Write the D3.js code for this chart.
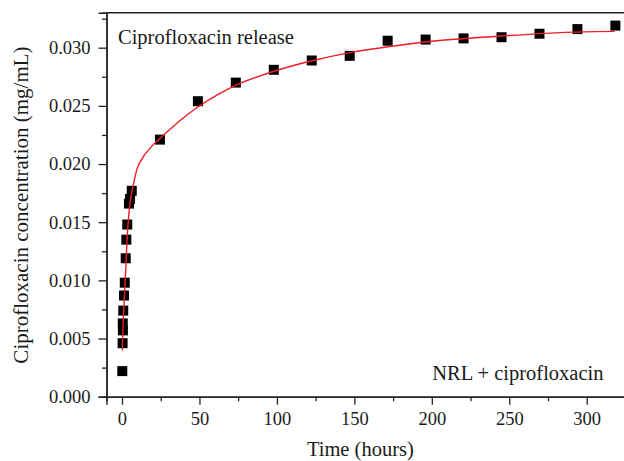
<!DOCTYPE html>
<html>
<head>
<meta charset="utf-8">
<script src="https://cdn.jsdelivr.net/npm/d3@7"></script>
<style>
  html, body { margin: 0; padding: 0; background: #fff; }
  svg { display: block; }
  text { font-family: "Liberation Serif", "DejaVu Serif", serif; fill: #1a1a1a; }
</style>
</head>
<body>
<svg id="chart" width="624" height="461"></svg>
<script>
// Measured release data (time in hours, concentration in mg/mL)
const timeHours = [0.2, 0.4, 0.5, 0.6, 0.8, 1.3, 1.8, 2.4, 2.8, 3.4, 4.5, 5.2, 6.3,
  24.5, 49, 73.5, 98, 122.5, 147, 171.5, 196, 220.5, 245, 269.5, 294, 318.5];
const concentration = [0.0022, 0.0046, 0.0063, 0.0057, 0.0074, 0.0087, 0.0098, 0.0119, 0.0135, 0.0148, 0.0166, 0.0170, 0.0177,
  0.0221, 0.0254, 0.0270, 0.0281, 0.0289, 0.0293, 0.0306, 0.0307, 0.0308, 0.0309, 0.0312, 0.0316, 0.0319];

// Fitted curve
const fitTime = [0.2, 0.85, 1.9, 2.6, 3.4, 4.5, 5.8, 7.3, 9.5, 12.7, 18, 24.5, 32, 38.5, 49, 61, 74, 98.7, 123.4, 148, 173, 200, 245, 283, 318];
const fitConc = [0.0040, 0.0066, 0.0095, 0.0115, 0.0138, 0.0158, 0.0172, 0.0182, 0.0195, 0.0204, 0.02135, 0.0222, 0.0231, 0.02385, 0.0249, 0.0259, 0.0268, 0.0280, 0.0289, 0.0296, 0.0301, 0.03055, 0.0310, 0.0313, 0.0314];

const xMajorTicks = [0, 50, 100, 150, 200, 250, 300];
const xMinorTicks = [25, 75, 125, 175, 225, 275, 325];
const yMajorTicks = [0, 0.005, 0.010, 0.015, 0.020, 0.025, 0.030];
const yMinorTicks = [0.0025, 0.0075, 0.0125, 0.0175, 0.0225, 0.0275, 0.0325];

const xTitle = "Time (hours)";
const yTitle = "Ciprofloxacin concentration (mg/mL)";
const topLabel = "Ciprofloxacin release";
const bottomLabel = "NRL + ciprofloxacin";

(function () {
const svg = d3.select("#chart");
const pL = 106.5, pR = 633.2, pT = 12.8, pB = 396.7;

const x = d3.scaleLinear().domain([-10, 330]).range([pL, pR]);
const y = d3.scaleLinear().domain([0, 0.033]).range([pB, pT]);

const axisColor = "#222";

// Frame (top and right edges)
svg.append("path")
  .attr("d", `M${pL},${pT}H${pR}V${pB}`)
  .attr("fill", "none").attr("stroke", axisColor).attr("stroke-width", 1.4);

// X axis
const gx = svg.append("g").attr("transform", `translate(0,${pB})`);
gx.append("g").call(d3.axisBottom(x).tickValues(xMinorTicks).tickSize(4.5).tickFormat(""));
gx.append("g").call(d3.axisBottom(x).tickValues(xMajorTicks).tickSize(8).tickPadding(7).tickFormat(d3.format("d")));
gx.selectAll(".domain").attr("stroke", axisColor).attr("stroke-width", 1.4);
gx.selectAll(".tick line").attr("stroke", axisColor).attr("stroke-width", 1.3);
gx.selectAll(".tick text").style("font-size", "18.5px").attr("fill", "#1a1a1a")
  .style("font-family", '"Liberation Serif", serif');

// Y axis
const gy = svg.append("g").attr("transform", `translate(${pL},0)`);
gy.append("g").call(d3.axisLeft(y).tickValues(yMinorTicks).tickSize(4.5).tickFormat(""));
gy.append("g").call(d3.axisLeft(y).tickValues(yMajorTicks).tickSize(8).tickPadding(8).tickFormat(d3.format(".3f")));
gy.selectAll(".domain").attr("stroke", axisColor).attr("stroke-width", 1.4);
gy.selectAll(".tick line").attr("stroke", axisColor).attr("stroke-width", 1.3);
gy.selectAll(".tick text").style("font-size", "18.5px").attr("fill", "#1a1a1a")
  .style("font-family", '"Liberation Serif", serif');

// Clip
svg.append("clipPath").attr("id", "clip").append("rect")
  .attr("x", pL).attr("y", pT).attr("width", pR - pL).attr("height", pB - pT);

const plot = svg.append("g").attr("clip-path", "url(#clip)");

// Markers
const sq = 10;
plot.selectAll("rect.pt").data(timeHours.map((t, i) => [t, concentration[i]]))
  .enter().append("rect").attr("class", "pt")
  .attr("x", d => x(d[0]) - sq / 2).attr("y", d => y(d[1]) - sq / 2)
  .attr("width", sq).attr("height", sq).attr("fill", "#000");

// Fit line
const line = d3.line().x(d => x(d[0])).y(d => y(d[1])).curve(d3.curveMonotoneX);
plot.append("path").datum(fitTime.map((t, i) => [t, fitConc[i]]))
  .attr("d", line).attr("fill", "none").attr("stroke", "#ee1c24").attr("stroke-width", 1.4);

// Annotations
svg.append("text").attr("x", 118).attr("y", 43.5).style("font-size", "20.5px").text(topLabel);
svg.append("text").attr("x", 603.5).attr("y", 379.5).attr("text-anchor", "end").style("font-size", "20.5px").text(bottomLabel);

// Axis titles
svg.append("text").attr("x", (x(0) + x(300)) / 2 + 6).attr("y", 455.5).attr("text-anchor", "middle")
  .style("font-size", "20.5px").text(xTitle);
svg.append("text").attr("transform", "translate(28,205) rotate(-90)").attr("text-anchor", "middle")
  .style("font-size", "21px").text(yTitle);
})();
</script>
</body>
</html>
